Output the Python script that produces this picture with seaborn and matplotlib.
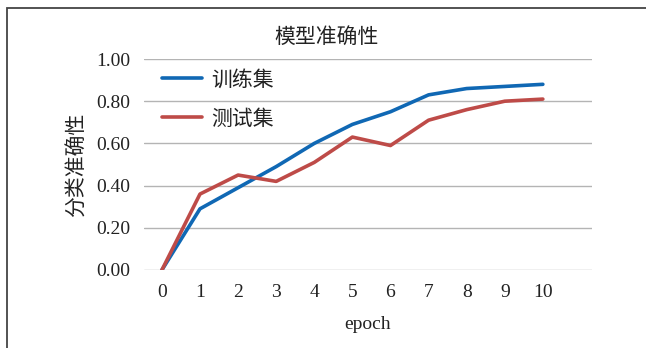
import matplotlib
matplotlib.use("Agg")
import matplotlib.pyplot as plt
import seaborn as sns
import pandas as pd
from matplotlib.patches import Rectangle

epochs = [0, 1, 2, 3, 4, 5, 6, 7, 8, 9, 10]
train_acc = [0.00, 0.29, 0.39, 0.49, 0.60, 0.69, 0.75, 0.83, 0.86, 0.87, 0.88]
test_acc = [0.00, 0.36, 0.45, 0.42, 0.51, 0.63, 0.59, 0.71, 0.76, 0.80, 0.81]
series_names = ["训练集", "测试集"]
y_ticks = [0.0, 0.2, 0.4, 0.6, 0.8, 1.0]

sns.set_theme(style="white")
plt.rcParams['font.family'] = ['Liberation Serif', 'Noto Sans CJK SC', 'DejaVu Sans']

df = pd.DataFrame({
    "epoch": epochs * 2,
    "acc": train_acc + test_acc,
    "set": [series_names[0]] * len(epochs) + [series_names[1]] * len(epochs),
})

fig = plt.figure(figsize=(6.46, 3.48), dpi=100)
ax = fig.add_axes([144 / 646, 1 - 270 / 348, (592 - 144) / 646, (270 - 59) / 348])

sns.lineplot(data=df, x="epoch", y="acc", hue="set", ax=ax,
             palette=["#1068B4", "#BE4B48"], linewidth=2.6, legend=True)

ax.set_xlim(-0.47, 11.29)
ax.set_ylim(0, 1.0)
ax.set_yticks(y_ticks)
ax.set_yticklabels([f"{v:.2f}" for v in y_ticks])
ax.set_xticks(epochs)
ax.yaxis.grid(True, color="#b4b4b4", linewidth=1.0)
ax.xaxis.grid(False)
for s in ax.spines.values():
    s.set_visible(False)
ax.tick_params(axis="y", length=0, pad=10, labelsize=14, colors="#222222")
ax.tick_params(axis="x", length=0, pad=10, labelsize=14, colors="#222222")
ax.set_xlabel("epoch", fontsize=14, color="#222222", labelpad=11)
ax.set_ylabel("分类准确性", fontsize=15, color="#222222", labelpad=6)

fig.text(327 / 646, 1 - 38 / 348, "模型准确性", fontsize=15, color="#222222",
         ha="center", va="center")

leg = ax.legend(loc="upper left", bbox_to_anchor=(0.013, 1.005), frameon=False,
                fontsize=15, handlelength=1.9, handletextpad=0.45,
                labelspacing=0.95, borderaxespad=0.2)
for t in leg.get_texts():
    t.set_color("#222222")

fig.patches.append(Rectangle((7 / 646, -0.1), 1.2, 1 - 8 / 348 + 0.1,
                             transform=fig.transFigure, fill=False,
                             edgecolor="#444444", linewidth=1.3))

fig.savefig("out.png", dpi=100)
